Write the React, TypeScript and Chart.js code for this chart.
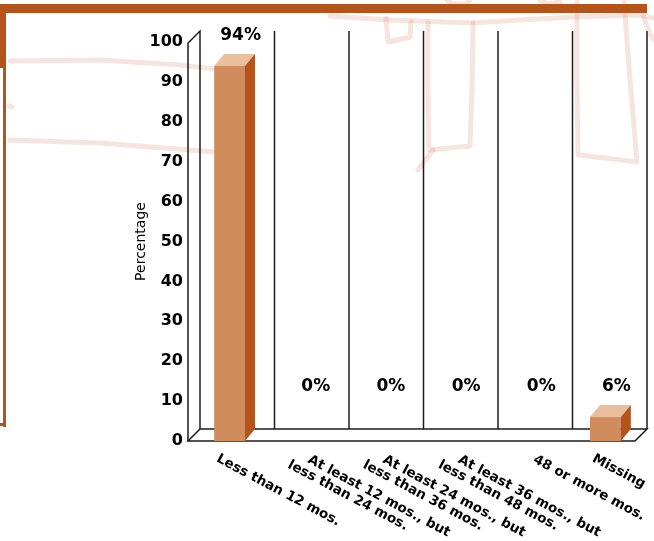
import React, { useEffect, useRef } from "react";
import { Chart, registerables } from "chart.js";

Chart.register(...registerables);

// ---- data ----
const categories: string[][] = [
  ["Less than 12 mos."],
  ["At least 12 mos., but", "less than 24 mos."],
  ["At least 24 mos., but", "less than 36 mos."],
  ["At least 36 mos., but", "less than 48 mos."],
  ["48 or more mos.", ""],
  ["Missing"],
];
const values: number[] = [94, 0, 0, 0, 0, 6];
const yMin = 0;
const yMax = 100;
const yStep = 10;
const yTitle = "Percentage";

// ---- style ----
const FRONT = "#D18C5E";
const TOP = "#E9BF9D";
const SIDE = "#B4531A";
const FRAME = "#B5541A";
const LINE = "#1c1c1c";
const SKETCH = "rgba(215,130,108,0.22)";
const FONT = '"DejaVu Sans", sans-serif';

const sketchStrokes: number[][][] = [
  [[10, 61], [100, 60], [180, 65], [214, 69]],
  [[10, 140], [100, 143], [190, 150], [214, 152]],
  [[9, 106], [12, 107]],
  [[330, 16], [390, 20], [473, 23], [520, 20], [573, 17], [640, 15], [654, 18]],
  [[386, 18], [388, 42], [410, 37], [411, 22]],
  [[428, 23], [428, 90], [429, 150], [470, 146], [472, 90], [473, 23]],
  [[433, 150], [418, 170]],
  [[577, 2], [577, 80], [578, 155], [605, 158], [637, 162], [630, 80], [624, 2]],
  [[643, 16], [650, 34], [654, 40]],
  [[447, 0], [452, 4], [466, 4], [470, 0]],
  [[540, 0], [548, 4], [560, 2]],
];

const threeD = {
  id: "threeD",
  beforeDraw(chart: any) {
    const ctx = chart.ctx;
    ctx.save();
    ctx.fillStyle = "#ffffff";
    ctx.fillRect(0, 0, chart.width, chart.height);
    // sketch strokes
    ctx.strokeStyle = SKETCH;
    ctx.lineWidth = 5;
    ctx.lineCap = "round";
    ctx.lineJoin = "round";
    for (const s of sketchStrokes) {
      ctx.beginPath();
      s.forEach((p, i) => (i ? ctx.lineTo(p[0], p[1]) : ctx.moveTo(p[0], p[1])));
      ctx.stroke();
    }
    // orange frame
    ctx.fillStyle = FRAME;
    ctx.fillRect(0, 4, 647, 9);
    ctx.fillRect(0, 4, 6, 64);
    ctx.fillRect(3, 60, 3, 367);
    ctx.fillRect(0, 423, 6, 3);
    ctx.restore();
  },
  beforeDatasetsDraw(chart: any) {
    const ctx = chart.ctx;
    const { left, right, top, bottom } = chart.chartArea;
    const D = 12;
    const fl = left - 4;
    const fr = right - 8;
    const t = top + 1;
    ctx.save();
    ctx.strokeStyle = LINE;
    ctx.lineWidth = 1.5;
    // floor
    ctx.beginPath();
    ctx.moveTo(fl, bottom);
    ctx.lineTo(fr, bottom);
    ctx.lineTo(fr + D, bottom - D);
    ctx.lineTo(fl + D, bottom - D);
    ctx.closePath();
    ctx.fillStyle = "#ffffff";
    ctx.fill();
    ctx.stroke();
    // left wall
    ctx.beginPath();
    ctx.moveTo(fl, bottom);
    ctx.lineTo(fl, t);
    ctx.lineTo(fl + D, t - D);
    ctx.lineTo(fl + D, bottom - D);
    ctx.stroke();
    // back wall dividers
    const bl = fl + D;
    const br = fr + D;
    const n = categories.length;
    for (let k = 1; k <= n; k++) {
      const x = bl + (k * (br - bl)) / n;
      ctx.beginPath();
      ctx.moveTo(x, t - D);
      ctx.lineTo(x, bottom - D);
      ctx.stroke();
    }
    ctx.restore();
  },
  afterDatasetsDraw(chart: any) {
    const ctx = chart.ctx;
    const meta = chart.getDatasetMeta(0);
    const dx = 10;
    const dy = 12;
    ctx.save();
    meta.data.forEach((el: any, i: number) => {
      const { x, y, base, width } = el.getProps(["x", "y", "base", "width"], true);
      const xl = x - width / 2;
      const xr = x + width / 2;
      if (base - y > 0.5) {
        ctx.fillStyle = TOP;
        ctx.beginPath();
        ctx.moveTo(xl, y);
        ctx.lineTo(xr, y);
        ctx.lineTo(xr + dx, y - dy);
        ctx.lineTo(xl + dx, y - dy);
        ctx.closePath();
        ctx.fill();
        ctx.fillStyle = SIDE;
        ctx.beginPath();
        ctx.moveTo(xr, y);
        ctx.lineTo(xr + dx, y - dy);
        ctx.lineTo(xr + dx, base - dy);
        ctx.lineTo(xr, base);
        ctx.closePath();
        ctx.fill();
      }
      ctx.fillStyle = "#000";
      ctx.font = `bold 17px ${FONT}`;
      ctx.textAlign = "center";
      ctx.textBaseline = "middle";
      const ly = Math.min(y, base - 24) - 30;
      ctx.fillText(`${values[i]}%`, x + 11, ly);
    });
    ctx.restore();

    // category labels (rotated)
    const xs = chart.scales.x;
    const { bottom } = chart.chartArea;
    const ang = (28 * Math.PI) / 180;
    ctx.save();
    ctx.fillStyle = "#000";
    ctx.font = `bold 13.5px ${FONT}`;
    ctx.textAlign = "left";
    ctx.textBaseline = "top";
    categories.forEach((lines, i) => {
      const cx = xs.getPixelForValue(i);
      const n = lines.length;
      ctx.save();
      ctx.translate(cx - 9 + 16 * (n - 1), bottom + 11 + (n - 1));
      ctx.rotate(ang);
      lines.forEach((ln, j) => ctx.fillText(ln, -15 * j, 14 * j));
      ctx.restore();
    });
    ctx.restore();
  },
};

export default function App() {
  const ref = useRef<HTMLCanvasElement | null>(null);
  useEffect(() => {
    if (!ref.current) return;
    const chart = new Chart(ref.current, {
      type: "bar",
      data: {
        labels: categories.map((l) => l.join(" ")),
        datasets: [
          {
            data: values,
            backgroundColor: FRONT,
            borderWidth: 0,
            barPercentage: 0.41,
            categoryPercentage: 1,
          },
        ],
      },
      options: {
        responsive: false,
        animation: false,
        devicePixelRatio: 1,
        layout: { padding: { top: 42, right: 11, bottom: 100, left: 0 } },
        plugins: { legend: { display: false }, tooltip: { enabled: false } },
        scales: {
          x: { display: false },
          y: {
            min: yMin,
            max: yMax,
            ticks: {
              stepSize: yStep,
              color: "#000",
              padding: 9,
              font: { family: FONT, weight: "bold", size: 16 },
            },
            grid: { display: false, drawTicks: false },
            border: { display: false },
            title: {
              display: true,
              text: yTitle,
              color: "#000",
              font: { family: FONT, size: 14 },
              padding: { top: 132.6, bottom: 0 },
            },
            afterFit: (s: any) => {
              s.width = 192;
            },
          },
        },
      },
      plugins: [threeD],
    } as any);
    return () => chart.destroy();
  }, []);
  return (
    <div style={{ position: "fixed", left: 0, top: 0, width: 654, height: 541 }}>
      <canvas ref={ref} width={654} height={541} style={{ display: "block" }} />
    </div>
  );
}
